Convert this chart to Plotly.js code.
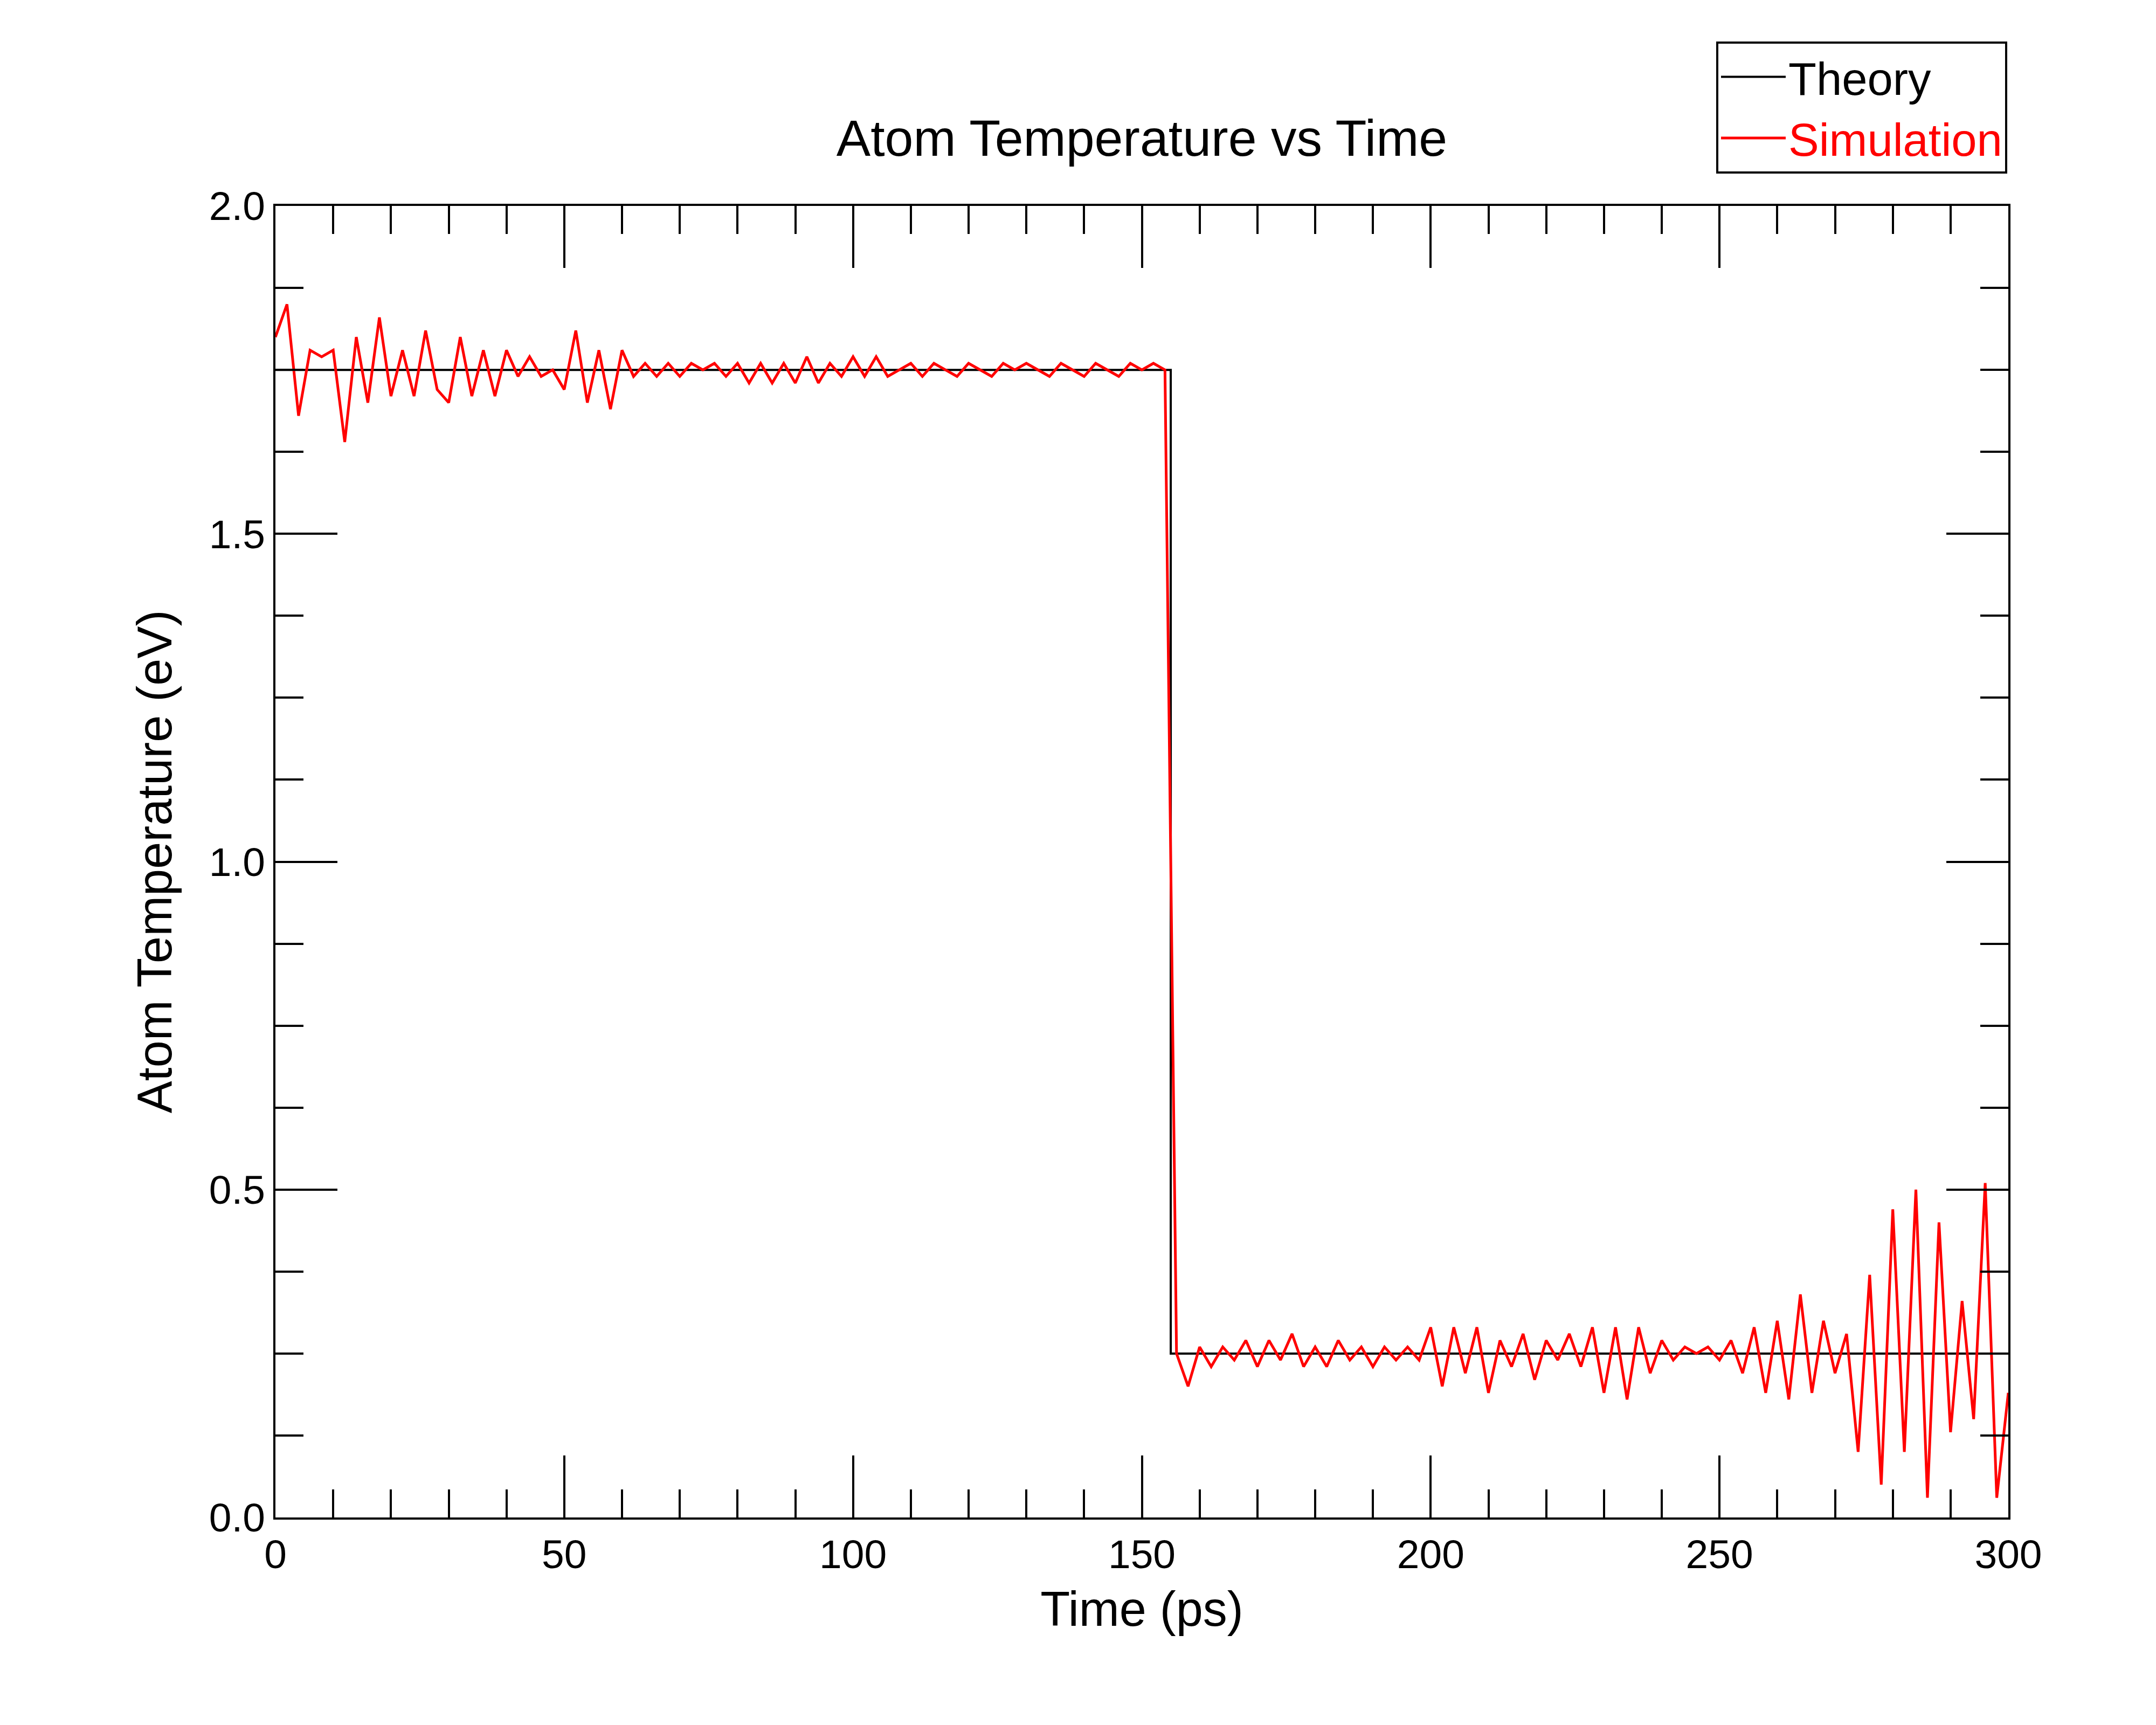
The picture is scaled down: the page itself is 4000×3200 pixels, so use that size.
<!DOCTYPE html>
<html><head><meta charset="utf-8">
<script src="https://cdn.plot.ly/plotly-3.0.1.min.js"></script>
<style>body{margin:0;background:#fff}</style></head>
<body><div id="plot" style="width:4000px;height:3200px"></div>
<script>
const theoryX = [0, 155, 155, 300];
const theoryY = [1.75, 1.75, 0.25, 0.25];
const simX = [0,2,4,6,8,10,12,14,16,18,20,22,24,26,28,30,32,34,36,38,40,42,44,46,48,50,52,54,56,58,60,62,64,66,68,70,72,74,76,78,80,82,84,86,88,90,92,94,96,98,100,102,104,106,108,110,112,114,116,118,120,122,124,126,128,130,132,134,136,138,140,142,144,146,148,150,152,154,156,158,160,162,164,166,168,170,172,174,176,178,180,182,184,186,188,190,192,194,196,198,200,202,204,206,208,210,212,214,216,218,220,222,224,226,228,230,232,234,236,238,240,242,244,246,248,250,252,254,256,258,260,262,264,266,268,270,272,274,276,278,280,282,284,286,288,290,292,294,296,298,300];
const simY = [1.80,1.85,1.68,1.78,1.77,1.78,1.64,1.80,1.70,1.83,1.71,1.78,1.71,1.81,1.72,1.70,1.80,1.71,1.78,1.71,1.78,1.74,1.77,1.74,1.75,1.72,1.81,1.70,1.78,1.69,1.78,1.74,1.76,1.74,1.76,1.74,1.76,1.75,1.76,1.74,1.76,1.73,1.76,1.73,1.76,1.73,1.77,1.73,1.76,1.74,1.77,1.74,1.77,1.74,1.75,1.76,1.74,1.76,1.75,1.74,1.76,1.75,1.74,1.76,1.75,1.76,1.75,1.74,1.76,1.75,1.74,1.76,1.75,1.74,1.76,1.75,1.76,1.75,
0.25,0.20,0.26,0.23,0.26,0.24,0.27,0.23,0.27,0.24,0.28,0.23,0.26,0.23,0.27,0.24,0.26,0.23,0.26,0.24,0.26,0.24,0.29,0.20,0.29,0.22,0.29,0.19,0.27,0.23,0.28,0.21,0.27,0.24,0.28,0.23,0.29,0.19,0.29,0.18,0.29,0.22,0.27,0.24,0.26,0.25,0.26,0.24,0.27,0.22,0.29,0.19,0.30,0.18,0.34,0.19,0.30,0.22,0.28,0.10,0.37,0.05,0.47,0.10,0.50,0.03,0.45,0.13,0.33,0.15,0.51,0.03,0.19];
const xTicks = [0,50,100,150,200,250,300];
const yTicks = [0,0.5,1.0,1.5,2.0];
const axisCommon = {showgrid:false, zeroline:false, showline:true, linecolor:'#000', linewidth:4,
  mirror:'ticks', ticks:'inside', ticklen:115, tickwidth:4, tickcolor:'#000', automargin:false,
  tickfont:{family:'Liberation Sans, Arial', size:75, color:'#000'}};
Plotly.newPlot('plot', [
  {x:theoryX, y:theoryY, mode:'lines', name:'Theory', line:{color:'#000', width:4}},
  {x:simX, y:simY, mode:'lines', name:'<span style="color:#ff0000">Simulation</span>', line:{color:'#ff0000', width:5}}
], {
  width:4000, height:3200, paper_bgcolor:'#fff', plot_bgcolor:'#fff',
  margin:{l:511, r:274, t:382, b:385, autoexpand:false},
  title:{text:'Atom Temperature vs Time', x:0.5, xref:'paper', y:0.92, yref:'container', yanchor:'middle',
    font:{family:'Liberation Sans, Arial', size:95, color:'#000'}},
  xaxis:Object.assign({}, axisCommon, {range:[0,300], tickvals:xTicks, ticktext:xTicks.map(String),
    minor:{dtick:10, ticklen:52, tickwidth:4, tickcolor:'#000', ticks:'inside'},
    title:{text:'Time (ps)', font:{family:'Liberation Sans, Arial', size:90, color:'#000'}, standoff:30}}),
  yaxis:Object.assign({}, axisCommon, {range:[0,2], tickvals:yTicks, ticktext:yTicks.map(v=>v.toFixed(1)),
    minor:{dtick:0.125, ticklen:52, tickwidth:4, tickcolor:'#000', ticks:'inside'},
    title:{text:'Atom Temperature (eV)', font:{family:'Liberation Sans, Arial', size:90, color:'#000'}, standoff:40}}),
  showlegend:true,
  legend:{xref:'container', yref:'container', x:0.931, xanchor:'right', y:0.976, yanchor:'top',
    bgcolor:'#fff', bordercolor:'#000', borderwidth:4,
    font:{family:'Liberation Sans, Arial', size:85, color:'#000'}, itemwidth:120, tracegroupgap:30}
}, {staticPlot:true});
</script></body></html>
